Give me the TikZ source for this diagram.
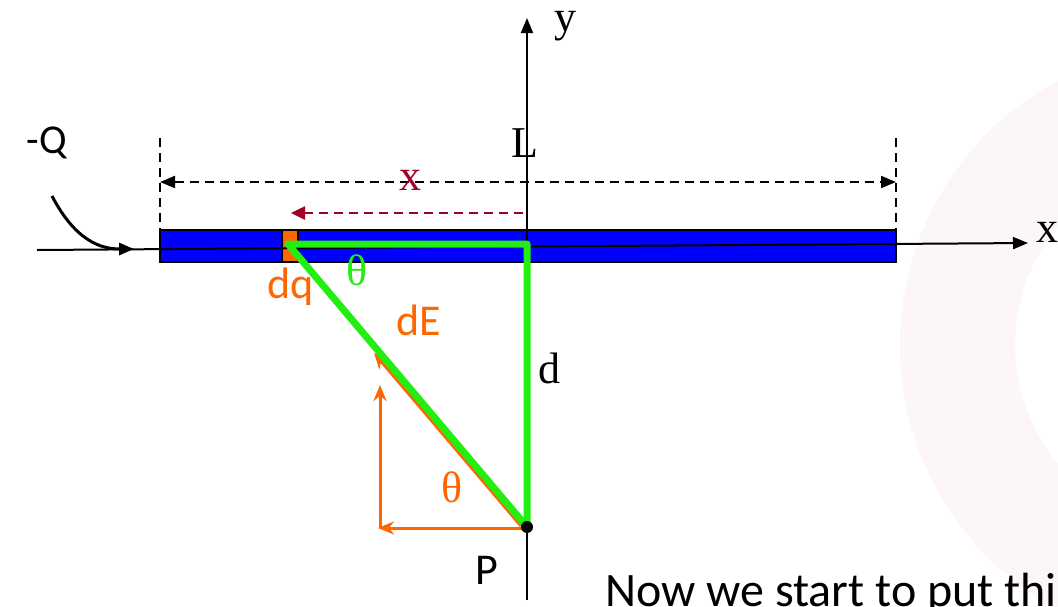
\documentclass[tikz,border=0pt]{standalone}
\usepackage{fontspec}
\setmainfont{Liberation Serif}
\newfontfamily\sansf{Carlito}
\usetikzlibrary{arrows.meta}
\definecolor{barblue}{HTML}{0000FF}
\definecolor{dqorange}{HTML}{FF6600}
\definecolor{grn}{HTML}{22EE11}
\definecolor{darkred}{HTML}{A00028}
\definecolor{wmark}{HTML}{FCF6F6}
\begin{document}
\begin{tikzpicture}[x=1pt,y=-1pt,
  serlab/.style={inner sep=0pt,font=\fontsize{44}{44}\selectfont},
  sanlab/.style={inner sep=0pt,font=\sansf\fontsize{44}{44}\selectfont},
  blackhead/.style={-{Triangle[length=15pt,width=12pt]}},
  orarrow/.style={dqorange,line width=3pt,-{Stealth[length=16pt,width=13pt]}},
  dimline/.style={dashed,dash pattern=on 9pt off 6pt,line width=2pt}]
\useasboundingbox (0,0) rectangle (1058,606);
\clip (0,0) rectangle (1058,606);
\fill[white] (0,0) rectangle (1058,606);
% faint watermark ring
\fill[wmark,even odd rule] (1200,345) circle (300) (1200,345) circle (185);
% coordinates
\coordinate (xl) at (37,250);
\coordinate (xr) at (1028,243);
\coordinate (yb) at (527,600);
\coordinate (yt) at (527,18);
\coordinate (A) at (288,244);
\coordinate (O) at (527,244);
\coordinate (P) at (527,527);
\coordinate (dl) at (160,138);
\coordinate (dlb) at (160,230);
\coordinate (dr) at (896,138);
\coordinate (drb) at (896,230);
\coordinate (Ll) at (160,182);
\coordinate (Lr) at (896,182);
\coordinate (xs) at (523,213);
\coordinate (xe) at (291,213);
\coordinate (qs) at (52,196);
\coordinate (qe) at (134,249);
\coordinate (Pd) at (521,526);
\coordinate (dEt) at (374,353);
\coordinate (Ph) at (524,528);
\coordinate (hx) at (378,528);
\coordinate (vb) at (380,528);
\coordinate (vt) at (380,385);
% bar
\node (bar) [draw,fill=barblue,line width=2.5pt,minimum width=736pt,minimum height=32pt,inner sep=0pt] at (528,246) {};
\node (dq) [draw,fill=dqorange,line width=2pt,minimum width=16pt,minimum height=32pt,inner sep=0pt] at (290,246) {};
% x axis
\draw[line width=2pt,blackhead] (xl) -- (xr);
% y axis
\draw[line width=2pt,blackhead] (yb) -- (yt);
% dimension lines
\draw[dimline,line width=1.6pt] (dl) -- (dlb);
\draw[dimline,line width=1.6pt] (dr) -- (drb);
\draw[dimline,{Triangle[length=15pt,width=12pt]}-{Triangle[length=15pt,width=12pt]}] (Ll) -- (Lr);
\draw[dimline,darkred,line width=2.5pt,-{Triangle[length=14pt,width=13pt]}] (xs) -- (xe);
% -Q pointer
\draw[line width=3pt,blackhead] (qs) .. controls (75,240) and (100,249) .. (qe);
% orange vectors
\draw[orarrow] (Pd) -- (dEt);
\draw[orarrow] (vb) -- (vt);
\draw[orarrow] (Ph) -- (hx);
% green triangle
\draw[grn,line width=7pt,line join=round] (A) -- (O) -- (P) -- cycle;
% point P
\fill (P) circle (6pt);
% labels
\node (lQ) [sanlab,font=\sansf\fontsize{41}{41}\selectfont] at (47,143) {-Q};
\node (lL) [serlab] at (525,143) {L};
\node (ly) [serlab] at (565,26) {y};
\node (lxa) [serlab] at (1047,232) {x};
\node (lx) [serlab,darkred] at (410,180) {x};
\node (lth) [serlab,grn] at (357,270) {θ};
\node (ldq) [sanlab,dqorange] at (291,287) {dq};
\node (ldE) [sanlab,dqorange] at (419,320) {dE};
\node (ld) [serlab] at (549,368) {d};
\node (lth2) [serlab,dqorange] at (452,487) {θ};
\node (lP) [sanlab] at (487,570) {P};
\node (now) [anchor=base west,inner sep=0pt,font=\sansf\fontsize{48}{48}\selectfont] at (605,606) {Now we start to put thi};
\end{tikzpicture}
\end{document}
